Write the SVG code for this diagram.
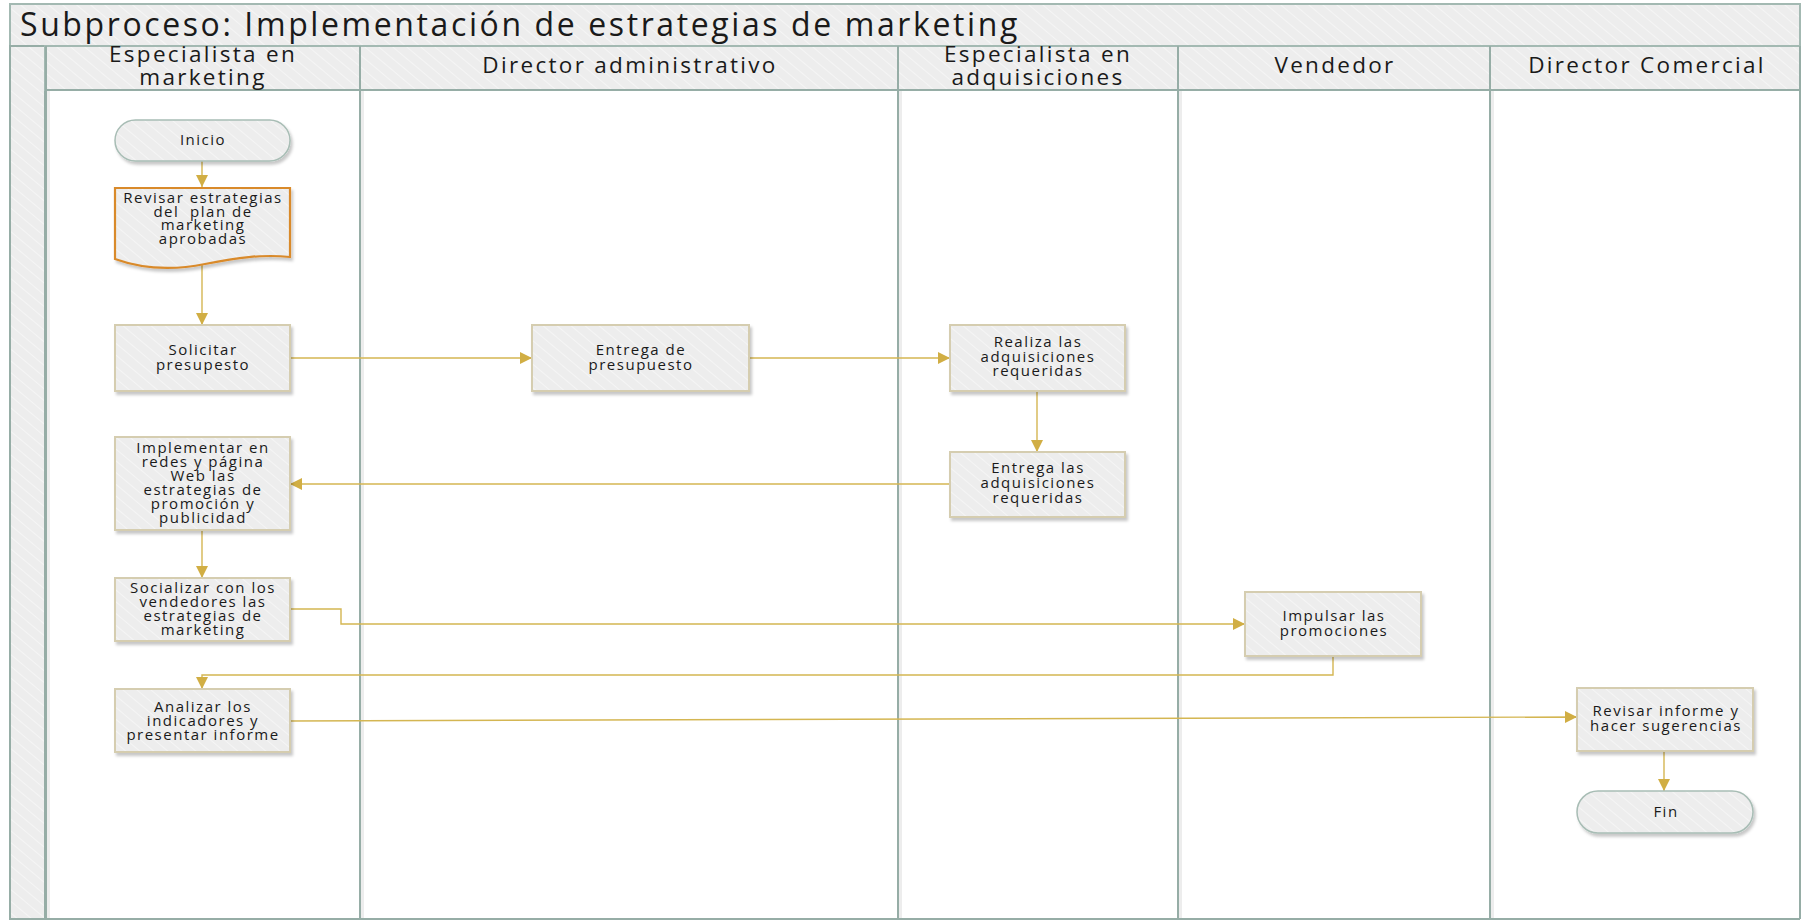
<svg xmlns="http://www.w3.org/2000/svg" width="1803" height="920" viewBox="0 0 1803 920">
  <style>
    .lane-line { stroke: #96ADA6; stroke-width: 2; fill: none; }
    .lane-shade { stroke: #000; stroke-opacity: 0.07; stroke-width: 3; fill: none; }
    .hdr { font-family: "Open Sans", "Noto Sans", sans-serif; font-size: 22.5px; letter-spacing: 2.3px; fill: #1a1a1a; text-anchor: middle; }
    .title { font-family: "Open Sans", "Noto Sans", sans-serif; font-size: 32px; letter-spacing: 2.6px; fill: #1a1a1a; }
    .box { fill: url(#hatch); stroke: #D5CDB0; stroke-width: 2; filter: url(#shadow); }
    .term { fill: url(#hatch); stroke: #A8BDB5; stroke-width: 1.5; filter: url(#shadow); }
    .doc { fill: url(#hatch); stroke: #D98A2C; stroke-width: 2.2; filter: url(#shadow); }
    .lbl { font-family: "Open Sans", "Noto Sans", sans-serif; font-size: 15px; letter-spacing: 1.5px; fill: #1a1a1a; text-anchor: middle; white-space: pre; }
    .flow { stroke: #D4B652; stroke-width: 1.4; fill: none; marker-end: url(#arrow); }
  </style>
  <defs>
    <pattern id="hatch" width="9" height="9" patternUnits="userSpaceOnUse" patternTransform="rotate(-50)">
      <rect width="9" height="9" fill="#EDEDED"/>
      <line x1="0" y1="0" x2="0" y2="9" stroke="#F5F5F5" stroke-width="2"/>
    </pattern>
    <filter id="shadow" x="-10%" y="-10%" width="125%" height="135%">
      <feDropShadow dx="2" dy="3" stdDeviation="1.8" flood-color="#000" flood-opacity="0.22"/>
    </filter>
    <marker id="arrow" viewBox="0 0 12 12" refX="12" refY="6" markerWidth="12" markerHeight="12" markerUnits="userSpaceOnUse" orient="auto">
      <path d="M0,0 L12,6 L0,12 Z" fill="#D1AE44"/>
    </marker>
  </defs>

  <!-- pool frame -->
  <rect x="0" y="0" width="1803" height="920" fill="#FFFFFF"/>
  <g id="pool">
    <rect x="10" y="4" width="1790" height="42" fill="url(#hatch)" stroke="#A3B9B2" stroke-width="2"/>
    <text class="title" x="20" y="36">Subproceso: Implementación de estrategias de marketing</text>
    <rect x="10" y="46" width="35" height="873" fill="url(#hatch)" stroke="#96ADA6" stroke-width="2"/>
    <rect x="45" y="46" width="1755" height="44" fill="url(#hatch)" stroke="#A3B9B2" stroke-width="2"/>
    <line x1="45" y1="919" x2="1800" y2="919" class="lane-line"/>
    <line x1="1800" y1="46" x2="1800" y2="919" class="lane-line"/>
  </g>

  <!-- lanes -->
  <g id="lanes">
    <path class="lane-shade" d="M48.5,90 V918 M362.5,90 V918 M900.5,90 V918 M1180.5,90 V918 M1492.5,90 V918"/>
    <line class="lane-line" x1="46" y1="46" x2="46" y2="919"/>
    <line class="lane-line" x1="360" y1="46" x2="360" y2="919"/>
    <line class="lane-line" x1="898" y1="46" x2="898" y2="919"/>
    <line class="lane-line" x1="1178" y1="46" x2="1178" y2="919"/>
    <line class="lane-line" x1="1490" y1="46" x2="1490" y2="919"/>
    <line class="lane-line" x1="46" y1="90" x2="1800" y2="90"/>
    <text class="hdr" x="203" y="62">Especialista en</text>
    <text class="hdr" x="203" y="85">marketing</text>
    <text class="hdr" x="630" y="73">Director administrativo</text>
    <text class="hdr" x="1038" y="62">Especialista en</text>
    <text class="hdr" x="1038" y="85">adquisiciones</text>
    <text class="hdr" x="1335" y="73">Vendedor</text>
    <text class="hdr" x="1647" y="73">Director Comercial</text>
  </g>

  <!-- connectors -->
  <g id="connectors">
    <path class="flow" d="M202,161 V187"/>
    <path class="flow" d="M202,263 V325"/>
    <path class="flow" d="M290,358 H532"/>
    <path class="flow" d="M749,358 H950"/>
    <path class="flow" d="M1037,391 V452"/>
    <path class="flow" d="M950,484 H290"/>
    <path class="flow" d="M202,530 V578"/>
    <path class="flow" d="M290,609 H341 V624 H1245"/>
    <path class="flow" d="M1333,656 V675 H202 V689"/>
    <path class="flow" d="M290,721 L1577,717"/>
    <path class="flow" d="M1664,751 V791"/>
  </g>

  <!-- nodes -->
  <g id="inicio">
    <rect class="term" x="115" y="120" width="175" height="41" rx="20.5"/>
    <text class="lbl" x="203" y="145">Inicio</text>
  </g>
  <g id="revisar-estrategias">
    <path class="doc" d="M115,188 H290 V257 C262,254 236,258 205,264 C170,271 140,268 115,259 Z"/>
    <text class="lbl" x="203" y="203">Revisar estrategias</text>
    <text class="lbl" x="203" y="217">del  plan de</text>
    <text class="lbl" x="203" y="230">marketing</text>
    <text class="lbl" x="203" y="244">aprobadas</text>
  </g>
  <g id="solicitar">
    <rect class="box" x="115" y="325" width="175" height="66"/>
    <text class="lbl" x="203" y="355">Solicitar</text>
    <text class="lbl" x="203" y="370">presupesto</text>
  </g>
  <g id="entrega-presupuesto">
    <rect class="box" x="532" y="325" width="217" height="66"/>
    <text class="lbl" x="641" y="355">Entrega de</text>
    <text class="lbl" x="641" y="370">presupuesto</text>
  </g>
  <g id="realiza-adquisiciones">
    <rect class="box" x="950" y="325" width="175" height="66"/>
    <text class="lbl" x="1038" y="347">Realiza las</text>
    <text class="lbl" x="1038" y="362">adquisiciones</text>
    <text class="lbl" x="1038" y="376">requeridas</text>
  </g>
  <g id="entrega-adquisiciones">
    <rect class="box" x="950" y="452" width="175" height="65"/>
    <text class="lbl" x="1038" y="473">Entrega las</text>
    <text class="lbl" x="1038" y="488">adquisiciones</text>
    <text class="lbl" x="1038" y="503">requeridas</text>
  </g>
  <g id="implementar">
    <rect class="box" x="115" y="437" width="175" height="93"/>
    <text class="lbl" x="203" y="453">Implementar en</text>
    <text class="lbl" x="203" y="467">redes y página</text>
    <text class="lbl" x="203" y="481">Web las</text>
    <text class="lbl" x="203" y="495">estrategias de</text>
    <text class="lbl" x="203" y="509">promoción y</text>
    <text class="lbl" x="203" y="523">publicidad</text>
  </g>
  <g id="socializar">
    <rect class="box" x="115" y="578" width="175" height="63"/>
    <text class="lbl" x="203" y="593">Socializar con los</text>
    <text class="lbl" x="203" y="607">vendedores las</text>
    <text class="lbl" x="203" y="621">estrategias de</text>
    <text class="lbl" x="203" y="635">marketing</text>
  </g>
  <g id="analizar">
    <rect class="box" x="115" y="689" width="175" height="63"/>
    <text class="lbl" x="203" y="712">Analizar los</text>
    <text class="lbl" x="203" y="726">indicadores y</text>
    <text class="lbl" x="203" y="740">presentar informe</text>
  </g>
  <g id="impulsar">
    <rect class="box" x="1245" y="592" width="176" height="64"/>
    <text class="lbl" x="1334" y="621">Impulsar las</text>
    <text class="lbl" x="1334" y="636">promociones</text>
  </g>
  <g id="revisar-informe">
    <rect class="box" x="1577" y="688" width="176" height="63"/>
    <text class="lbl" x="1666" y="716">Revisar informe y</text>
    <text class="lbl" x="1666" y="731">hacer sugerencias</text>
  </g>
  <g id="fin">
    <rect class="term" x="1577" y="791" width="176" height="42" rx="21"/>
    <text class="lbl" x="1666" y="817">Fin</text>
  </g>
</svg>
